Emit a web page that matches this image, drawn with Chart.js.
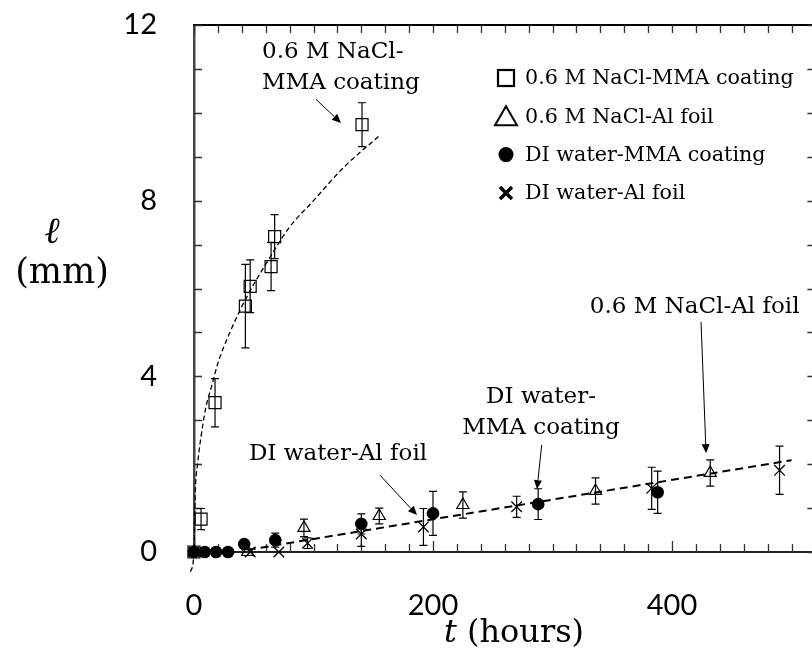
<!DOCTYPE html>
<html>
<head>
<meta charset="utf-8">
<script src="https://cdn.jsdelivr.net/npm/chart.js@4.4.0/dist/chart.umd.min.js"></script>
<style>
  html, body { margin: 0; padding: 0; background: #fff; overflow: hidden; }
  #wrap { width: 830px; height: 664px; }
</style>
</head>
<body>
<div id="wrap"><canvas id="chart" width="830" height="664"></canvas></div>
<script>
// values: t in hours, l in mm, err = half length of the error bar
const sqHours = [0, 5.9, 17.6, 43, 47, 64.5, 67.5, 140.6];
const sqLen = [0, 0.75, 3.4, 5.6, 6.05, 6.5, 7.18, 9.73];
const sqErr = [0, 0.24, 0.55, 0.95, 0.6, 0.55, 0.5, 0.5];

const triHours = [0, 45, 92, 155, 225, 336, 432];
const triLen = [0, 0, 0.55, 0.82, 1.07, 1.39, 1.8];
const triErr = [0, 0, 0.2, 0.18, 0.3, 0.3, 0.3];

const dotHours = [0, 9, 18.5, 28.5, 42, 68, 140, 200, 288, 388];
const dotLen = [0, 0, 0, 0, 0.18, 0.27, 0.64, 0.88, 1.09, 1.36];
const dotErr = [0, 0, 0, 0, 0, 0.16, 0.23, 0.5, 0.35, 0.48];

const crossHours = [0, 47, 71, 95, 140, 192, 270, 383, 490];
const crossLen = [0, 0, 0, 0.2, 0.41, 0.57, 1.03, 1.45, 1.86];
const crossErr = [0, 0, 0, 0.12, 0.28, 0.42, 0.24, 0.48, 0.55];

// dashed fit curves as traced on the figure
const fitSaltHours = [-3, 0, 1, 3, 6, 10, 15, 20, 30, 45, 60, 80, 100, 125, 156];
const fitSaltLen = [-0.45, 0, 1.3, 2.0, 2.65, 3.3, 3.8, 4.3, 5.0, 5.85, 6.55, 7.4, 8.0, 8.75, 9.5];
const fitLinHours = [45, 500];
const fitLinLen = [0.05, 2.09];

const seriesNames = ['0.6 M NaCl-MMA coating', '0.6 M NaCl-Al foil', 'DI water-MMA coating', 'DI water-Al foil'];
const xTickLabels = [0, 200, 400];
const yTickLabels = [0, 4, 8, 12];

const SERIF = '"DejaVu Serif", serif';

function pts(xs, ys) {
  return xs.map((x, i) => ({ x: x, y: ys[i] }));
}

// error bars go under the markers
const errBars = {
  id: 'errBars',
  beforeDatasetsDraw(chart) {
    const ctx = chart.ctx, xs = chart.scales.x, ys = chart.scales.y;
    ctx.save();
    ctx.strokeStyle = '#000';
    ctx.lineWidth = 1.2;
    chart.data.datasets.forEach(ds => {
      if (!ds.errors) return;
      ds.data.forEach((p, i) => {
        const e = ds.errors[i];
        if (!e) return;
        const px = xs.getPixelForValue(p.x);
        const top = ys.getPixelForValue(p.y + e);
        const bot = ys.getPixelForValue(p.y - e);
        ctx.beginPath();
        ctx.moveTo(px, top); ctx.lineTo(px, bot);
        ctx.moveTo(px - 4, top); ctx.lineTo(px + 4, top);
        ctx.moveTo(px - 4, bot); ctx.lineTo(px + 4, bot);
        ctx.stroke();
      });
    });
    ctx.restore();
  }
};

// top/right frame and inward tick marks on all four sides
const frame = {
  id: 'frame',
  beforeDatasetsDraw(chart) {
    const ctx = chart.ctx, a = chart.chartArea, x = chart.scales.x, y = chart.scales.y;
    ctx.save();
    ctx.strokeStyle = '#000';
    ctx.lineWidth = 2;
    ctx.beginPath();
    ctx.moveTo(a.left - 1, a.top); ctx.lineTo(a.right, a.top); ctx.lineTo(a.right, a.bottom);
    ctx.stroke();
    ctx.strokeStyle = '#333';
    ctx.lineWidth = 1.3;
    ctx.beginPath();
    x.ticks.forEach(t => {
      const px = Math.round(x.getPixelForValue(t.value)) + 0.5;
      const len = xTickLabels.includes(t.value) ? 11 : 8;
      ctx.moveTo(px, a.bottom); ctx.lineTo(px, a.bottom - len);
      ctx.moveTo(px, a.top); ctx.lineTo(px, a.top + 8);
    });
    y.ticks.forEach(t => {
      const py = Math.round(y.getPixelForValue(t.value)) + 0.5;
      ctx.moveTo(a.left, py); ctx.lineTo(a.left + 8, py);
      ctx.moveTo(a.right, py); ctx.lineTo(a.right - 8, py);
    });
    ctx.stroke();
    ctx.restore();
  }
};

function arrow(ctx, x1, y1, x2, y2) {
  const ang = Math.atan2(y2 - y1, x2 - x1), L = 9, W = 4;
  const bx = x2 - L * Math.cos(ang), by = y2 - L * Math.sin(ang);
  ctx.beginPath();
  ctx.moveTo(x1, y1); ctx.lineTo(bx, by);
  ctx.stroke();
  ctx.beginPath();
  ctx.moveTo(x2, y2);
  ctx.lineTo(bx + W * Math.sin(ang), by - W * Math.cos(ang));
  ctx.lineTo(bx - W * Math.sin(ang), by + W * Math.cos(ang));
  ctx.closePath();
  ctx.fill();
}

// callouts, placed in data units
const notes = [
  { lines: ['0.6 M NaCl-', 'MMA coating'], at: [57, 11.25], align: 'left', from: [102, 10.31], to: [123, 9.77] },
  { lines: ['0.6 M NaCl-Al foil'], at: [419, 5.44], align: 'center', from: [424.3, 5.24], to: [428.5, 2.25] },
  { lines: ['DI water-', 'MMA coating'], at: [290.4, 3.39], align: 'center', from: [291, 2.44], to: [287, 1.43] },
  { lines: ['DI water-Al foil'], at: [120.5, 2.09], align: 'center', from: [155.6, 1.75], to: [186.6, 0.84] }
];

function drawMarker(ctx, style, cx, cy) {
  ctx.beginPath();
  if (style === 'rect') {
    ctx.lineWidth = 2.2;
    ctx.strokeRect(cx - 8, cy - 8, 16, 16);
  } else if (style === 'triangle') {
    ctx.lineWidth = 2;
    ctx.moveTo(cx, cy - 10); ctx.lineTo(cx + 11, cy + 9); ctx.lineTo(cx - 11, cy + 9);
    ctx.closePath(); ctx.stroke();
  } else if (style === 'circle') {
    ctx.arc(cx, cy, 7.5, 0, Math.PI * 2); ctx.fill();
  } else {
    ctx.lineWidth = 3.5;
    ctx.moveTo(cx - 6, cy - 6); ctx.lineTo(cx + 6, cy + 6);
    ctx.moveTo(cx + 6, cy - 6); ctx.lineTo(cx - 6, cy + 6);
    ctx.stroke();
  }
}

const extras = {
  id: 'extras',
  afterDraw(chart) {
    const ctx = chart.ctx, xs = chart.scales.x, ys = chart.scales.y;
    ctx.save();
    ctx.fillStyle = '#000';
    ctx.strokeStyle = '#000';

    // legend
    const styles = ['rect', 'triangle', 'circle', 'crossRot'];
    ctx.font = '20.7px ' + SERIF;
    ctx.textAlign = 'left';
    ctx.textBaseline = 'middle';
    seriesNames.forEach((name, i) => {
      const cy = 78 + i * 38.3;
      drawMarker(ctx, styles[i], 506, cy);
      ctx.fillText(name, 525, cy + 1);
    });

    // callouts
    ctx.font = '23px ' + SERIF;
    ctx.textBaseline = 'alphabetic';
    ctx.lineWidth = 1;
    notes.forEach(n => {
      ctx.textAlign = n.align;
      const tx = xs.getPixelForValue(n.at[0]);
      const ty = ys.getPixelForValue(n.at[1]);
      n.lines.forEach((ln, k) => ctx.fillText(ln, tx, ty + k * 31));
      arrow(ctx, xs.getPixelForValue(n.from[0]), ys.getPixelForValue(n.from[1]),
        xs.getPixelForValue(n.to[0]), ys.getPixelForValue(n.to[1]));
    });

    // axis titles
    ctx.textBaseline = 'middle';
    ctx.textAlign = 'center';
    ctx.font = 'italic 37px ' + SERIF;
    ctx.fillText('\u2113', 52, 233);
    ctx.font = '35px ' + SERIF;
    ctx.fillText('(mm)', 62, 274);

    ctx.textAlign = 'left';
    ctx.font = 'italic 32px ' + SERIF;
    const wT = ctx.measureText('t').width;
    ctx.font = '32px ' + SERIF;
    const wRest = ctx.measureText(' (hours)').width;
    const startX = 514 - (wT + wRest) / 2;
    ctx.font = 'italic 32px ' + SERIF;
    ctx.fillText('t', startX, 634);
    ctx.font = '32px ' + SERIF;
    ctx.fillText(' (hours)', startX + wT, 634);
    ctx.restore();
  }
};

new Chart(document.getElementById('chart'), {
  type: 'scatter',
  data: {
    datasets: [
      {
        label: seriesNames[0], data: pts(sqHours, sqLen), errors: sqErr,
        pointStyle: 'rect', pointRadius: 8.5, pointBorderWidth: 1.2,
        borderColor: '#000', backgroundColor: 'rgba(0,0,0,0)', showLine: false, clip: false
      },
      {
        label: seriesNames[1], data: pts(triHours, triLen), errors: triErr,
        pointStyle: 'triangle', pointRadius: 7, pointBorderWidth: 1.2,
        borderColor: '#000', backgroundColor: 'rgba(0,0,0,0)', showLine: false, clip: false
      },
      {
        label: seriesNames[2], data: pts(dotHours, dotLen), errors: dotErr,
        pointStyle: 'circle', pointRadius: 6.3, pointBorderWidth: 0,
        borderColor: '#000', backgroundColor: '#000', showLine: false, clip: false
      },
      {
        label: seriesNames[3], data: pts(crossHours, crossLen), errors: crossErr,
        pointStyle: 'crossRot', pointRadius: 7.5, pointBorderWidth: 1.3,
        borderColor: '#000', backgroundColor: '#000', showLine: false, clip: false
      },
      {
        label: 'fit NaCl-MMA', data: pts(fitSaltHours, fitSaltLen),
        showLine: true, pointRadius: 0, borderColor: '#000', borderWidth: 1.3,
        borderDash: [5, 3], cubicInterpolationMode: 'monotone',
        clip: { left: 8, top: 0, right: 0, bottom: 25 }
      },
      {
        label: 'linear fit', data: pts(fitLinHours, fitLinLen),
        showLine: true, pointRadius: 0, borderColor: '#000', borderWidth: 2,
        borderDash: [8, 5]
      }
    ]
  },
  options: {
    responsive: false,
    animation: false,
    layout: { padding: { top: 25, right: 14.6, left: 0, bottom: 0 } },
    plugins: { legend: { display: false }, tooltip: { enabled: false } },
    scales: {
      x: {
        type: 'linear', min: 0, max: 520,
        afterFit: s => { s.height = 112; s.paddingLeft = 0; s.paddingRight = 0; },
        grid: { display: false, drawTicks: false },
        border: { display: true, color: '#222', width: 2 },
        ticks: {
          stepSize: 20, autoSkip: false, maxRotation: 0, padding: 36, color: '#000',
          font: { family: 'Lato', size: 29 },
          callback: v => xTickLabels.includes(v) ? String(v) : ''
        }
      },
      y: {
        min: 0, max: 12,
        afterFit: s => { s.width = 194; s.paddingTop = 0; s.paddingBottom = 0; },
        grid: { display: false, drawTicks: false },
        border: { display: true, color: '#444', width: 2.5 },
        ticks: {
          stepSize: 1, autoSkip: false, padding: 37, color: '#000',
          font: { family: 'Lato', size: 29 },
          callback: v => yTickLabels.includes(v) ? String(v) : ''
        }
      }
    }
  },
  plugins: [frame, errBars, extras]
});
</script>
</body>
</html>
